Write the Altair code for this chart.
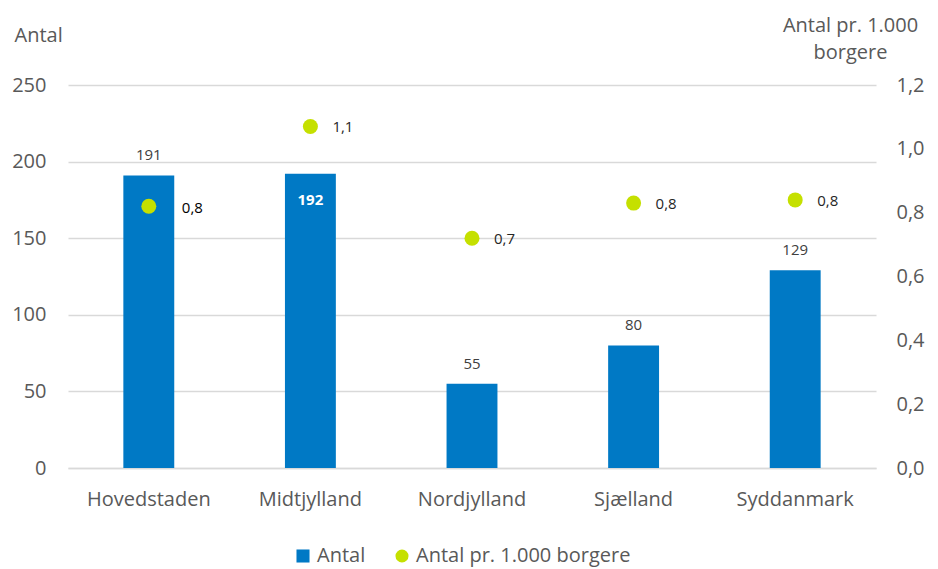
import altair as alt
import pandas as pd

regions = ["Hovedstaden", "Midtjylland", "Nordjylland", "Sjælland", "Syddanmark"]
antal = [191, 192, 55, 80, 129]
rate = [0.82, 1.07, 0.72, 0.83, 0.84]
series_names = ["Antal", "Antal pr. 1.000 borgere"]
left_ticks = [0, 50, 100, 150, 200, 250]
right_ticks = [0, 0.2, 0.4, 0.6, 0.8, 1.0, 1.2]

df = pd.DataFrame({"Region": regions, "Antal": antal, "Rate": rate})

FONT = "Open Sans"
GRAY = "#595959"
BAR = "#0079C5"
DOT = "#C5E000"

color_scale = alt.Scale(domain=series_names, range=[BAR, DOT])
shape_scale = alt.Scale(domain=series_names, range=["square", "circle"])

legend = alt.Legend(
    title=None, orient="none", direction="horizontal",
    legendX=225, legendY=461,
    labelFontSize=20, labelColor=GRAY, labelFont=FONT, labelLimit=400,
    symbolSize=170, symbolStrokeWidth=0, columnPadding=26, labelOffset=4,
)

x_enc = alt.X(
    "Region:N", sort=regions, title=None,
    scale=alt.Scale(paddingInner=0.685, paddingOuter=0.3425),
    axis=alt.Axis(labelAngle=0, labelFontSize=20, labelColor=GRAY, labelFont=FONT,
                  labelPadding=21, ticks=False, domainColor="#D9D9D9", domainWidth=1.5),
)

y_left = alt.Y(
    "Antal:Q", scale=alt.Scale(domain=[0, 250]),
    axis=alt.Axis(values=left_ticks, title="Antal", titleAngle=0, titleAlign="left",
                  titleBaseline="middle", titleX=-54, titleY=-50, titleFontSize=20,
                  titleFontWeight="normal", titleColor=GRAY, titleFont=FONT,
                  labelFontSize=20, labelColor=GRAY, labelFont=FONT, labelPadding=22,
                  ticks=False, domain=False, grid=True, gridColor="#D9D9D9", gridWidth=1.5),
)

y_right = alt.Y(
    "Rate:Q", scale=alt.Scale(domain=[0, 1.2]),
    axis=alt.Axis(orient="right", values=right_ticks,
                  labelExpr="replace(format(datum.value, '.1f'), '.', ',')",
                  title=["Antal pr. 1.000", "borgere"], titleAngle=0, titleAlign="center",
                  titleBaseline="middle", titleX=-26, titleY=-60, titleLineHeight=27,
                  titleFontSize=20, titleFontWeight="normal", titleColor=GRAY, titleFont=FONT,
                  labelFontSize=20, labelColor=GRAY, labelFont=FONT, labelPadding=20,
                  ticks=False, domain=False, grid=False),
)

base = alt.Chart(df)

bars = base.transform_calculate(series="'Antal'").mark_bar(color=BAR).encode(
    x=x_enc, y=y_left,
    color=alt.Color("series:N", scale=color_scale, legend=legend),
)

bar_text = base.transform_filter("datum.Region != 'Midtjylland'").mark_text(
    baseline="bottom", dy=-12, fontSize=15, color="#404040", font=FONT
).encode(x=x_enc, y=y_left, text=alt.Text("Antal:Q"))

bar_text_in = base.transform_filter("datum.Region == 'Midtjylland'").mark_text(
    baseline="middle", dy=26, fontSize=15, color="white", fontWeight="bold", font=FONT
).encode(x=x_enc, y=y_left, text=alt.Text("Antal:Q"))

left = alt.layer(bars, bar_text, bar_text_in)

points = base.transform_calculate(series="'Antal pr. 1.000 borgere'").mark_point(
    filled=True, size=225, opacity=1
).encode(
    x=x_enc, y=y_right,
    color=alt.Color("series:N", scale=color_scale, legend=legend),
    shape=alt.Shape("series:N", scale=shape_scale, legend=legend),
)

lbl_expr = "replace(format(datum.Rate, '.1f'), '.', ',')"

point_text = base.transform_filter("datum.Region != 'Hovedstaden'").transform_calculate(
    lbl=lbl_expr
).mark_text(
    align="left", baseline="middle", dx=22, dy=1, fontSize=15, color="#262626", font=FONT
).encode(x=x_enc, y=y_right, text="lbl:N")

point_text_h = base.transform_filter("datum.Region == 'Hovedstaden'").transform_calculate(
    lbl=lbl_expr
).mark_text(
    align="left", baseline="middle", dx=33, dy=2, fontSize=15, color="#000000", font=FONT
).encode(x=x_enc, y=y_right, text="lbl:N")

right = alt.layer(points, point_text, point_text_h)

chart = alt.layer(left, right).resolve_scale(y="independent").properties(
    width=808, height=383,
    autosize=alt.AutoSizeParams(type="none"),
    padding={"left": 60, "top": 77, "right": 54, "bottom": 101},
).configure_view(stroke=None)

chart.save("out.html", embed_options={"renderer": "svg", "actions": False})
